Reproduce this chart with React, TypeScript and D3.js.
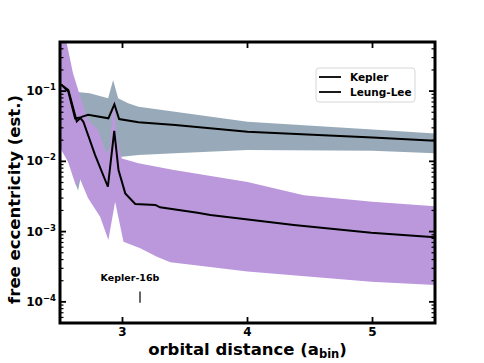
import React from 'react';
import * as d3 from 'd3';

// band edges and medians (x in a_bin, y = free eccentricity)
const grayHiX = [2.5, 2.618, 2.738, 2.885, 2.925, 2.965, 3.045, 3.128, 3.42, 4.0, 5.0, 5.5];
const grayHiY = [0.3, 0.098, 0.093, 0.079, 0.144, 0.079, 0.067, 0.06, 0.051, 0.0366, 0.0285, 0.025];
const grayLoX = [2.5, 2.6, 2.644, 2.68, 2.8, 2.887, 2.995, 3.128, 3.42, 4.0, 5.0, 5.5];
const grayLoY = [0.02, 0.007, 0.0038, 0.008, 0.0125, 0.0123, 0.0116, 0.0123, 0.013, 0.0145, 0.0142, 0.013];

const purpleHiX = [2.5, 2.535, 2.604, 2.658, 2.725, 2.805, 2.871, 2.9, 2.925, 2.957, 2.995, 3.128, 3.4, 4.0, 4.45, 5.0, 5.5];
const purpleHiY = [0.45, 0.7, 0.179, 0.0877, 0.0387, 0.0279, 0.013, 0.016, 0.0787, 0.02, 0.011, 0.0094, 0.0076, 0.0051, 0.0033, 0.00266, 0.0023];
const purpleLoX = [2.5, 2.51, 2.564, 2.604, 2.631, 2.658, 2.725, 2.821, 2.887, 2.941, 3.008, 3.142, 3.275, 3.382, 3.65, 4.0, 4.99, 5.5];
const purpleLoY = [0.016, 0.0145, 0.0099, 0.006, 0.00435, 0.0057, 0.00298, 0.00163, 0.00076, 0.00266, 0.00072, 0.00058, 0.00044, 0.000366, 0.00032, 0.00027, 0.000194, 0.000174];

const keplerX = [2.5, 2.514, 2.567, 2.634, 2.674, 2.725, 2.887, 2.935, 2.973, 3.128, 3.422, 4.0, 5.0, 5.5];
const keplerY = [0.12, 0.122, 0.103, 0.037, 0.043, 0.046, 0.041, 0.065, 0.04, 0.036, 0.033, 0.0264, 0.0219, 0.0196];

const leungX = [2.5, 2.514, 2.567, 2.621, 2.661, 2.687, 2.781, 2.883, 2.934, 2.968, 3.022, 3.102, 3.263, 3.3, 3.6, 3.703, 4.371, 4.99, 5.5];
const leungY = [0.12, 0.122, 0.098, 0.041, 0.042, 0.0366, 0.0123, 0.00435, 0.0272, 0.0075, 0.0035, 0.00247, 0.0024, 0.00222, 0.00185, 0.00172, 0.00124, 0.00096, 0.00083];

const xTicks = [3, 4, 5];
const yTicks = [1e-4, 1e-3, 1e-2, 1e-1];
const yTickExp = ['−4', '−3', '−2', '−1'];
const legendNames = ['Kepler', 'Leung-Lee'];

const planetX = 3.14;
const planetName = 'Kepler-16b';

const W = 484;
const H = 363;
const m = { left: 60, right: 49, top: 42, bottom: 40 };
const FONT = 'DejaVu Sans, sans-serif';

export default function App() {
  const x = d3.scaleLinear().domain([2.5, 5.5]).range([m.left, W - m.right]);
  const y = d3.scaleLog().domain([5e-5, 0.5]).range([H - m.bottom, m.top]);
  const [x0, x1] = x.range();
  const [y1, y0] = y.range();

  const pts = (xs: number[], ys: number[]) => xs.map((v, i) => [v, ys[i]] as [number, number]);
  const line = d3.line<[number, number]>().x(d => x(d[0])).y(d => y(d[1]));
  const band = (hx: number[], hy: number[], lx: number[], ly: number[]) =>
    line([...pts(hx, hy), ...pts(lx, ly).reverse()]) + 'Z';

  const minor = y.ticks().filter(t => !yTicks.some(v => Math.abs(v - t) / t < 1e-6));

  return (
    <svg width={W} height={H} style={{ position: 'absolute', left: 0, top: 0 }} fontFamily={FONT} fontWeight="bold">
      <defs>
        <clipPath id="plot">
          <rect x={x0} y={y0} width={x1 - x0} height={y1 - y0} />
        </clipPath>
      </defs>
      <rect width={W} height={H} fill="#fff" />
      <g clipPath="url(#plot)">
        <path d={band(grayHiX, grayHiY, grayLoX, grayLoY)} fill="#98aab9" />
        <path d={band(purpleHiX, purpleHiY, purpleLoX, purpleLoY)} fill="#bb98dc" />
        <path d={line(pts(keplerX, keplerY)) || ''} fill="none" stroke="#000" strokeWidth={2} />
        <path d={line(pts(leungX, leungY)) || ''} fill="none" stroke="#000" strokeWidth={2} />
      </g>

      {/* ticks, inward on all four sides */}
      <g stroke="#000">
        {xTicks.map(t => (
          <g key={'x' + t} strokeWidth={1.8}>
            <line x1={x(t)} x2={x(t)} y1={y1} y2={y1 - 6} />
            <line x1={x(t)} x2={x(t)} y1={y0} y2={y0 + 6} />
          </g>
        ))}
        {yTicks.map(t => (
          <g key={'y' + t} strokeWidth={1.8}>
            <line x1={x0} x2={x0 + 6} y1={y(t)} y2={y(t)} />
            <line x1={x1} x2={x1 - 6} y1={y(t)} y2={y(t)} />
          </g>
        ))}
        {minor.map(t => (
          <g key={'m' + t} strokeWidth={1.2}>
            <line x1={x0} x2={x0 + 3.5} y1={y(t)} y2={y(t)} />
            <line x1={x1} x2={x1 - 3.5} y1={y(t)} y2={y(t)} />
          </g>
        ))}
      </g>
      <rect x={x0} y={y0} width={x1 - x0} height={y1 - y0} fill="none" stroke="#000" strokeWidth={3} />

      {xTicks.map(t => (
        <text key={'xl' + t} x={x(t)} y={y1 + 13} textAnchor="middle" fontSize={12}>{t}</text>
      ))}
      {yTicks.map((t, i) => (
        <text key={'yl' + t} x={x0 - 4} y={y(t) + 4} textAnchor="end" fontSize={12}>
          10<tspan fontSize={8.5} dy={-5}>{yTickExp[i]}</tspan>
        </text>
      ))}

      <text x={(x0 + x1) / 2} y={H - 8} textAnchor="middle" fontSize={16.5}>
        orbital distance (a<tspan fontSize={11.5} dy={3}>bin</tspan><tspan dy={-3}>)</tspan>
      </text>
      <text transform={`translate(20,${(y0 + y1) / 2 + 17}) rotate(-90)`} textAnchor="middle" fontSize={16.5}>
        free eccentricity (est.)
      </text>

      {/* Kepler-16b marker */}
      <text x={x(planetX) - 10} y={y(2.0e-4)} textAnchor="middle" fontSize={9.5}>{planetName}</text>
      <line x1={x(planetX)} x2={x(planetX)} y1={y(1.4e-4)} y2={y(9.75e-5)} stroke="#000" strokeWidth={1.2} />

      {/* legend */}
      <g transform="translate(316,68)">
        <rect width={99} height={34} rx={3} fill="#fff" fillOpacity={0.8} stroke="#d6d6d6" />
        {legendNames.map((n, i) => (
          <g key={n} transform={`translate(0,${9 + i * 15})`}>
            <line x1={3} x2={25} y1={0} y2={0} stroke="#000" strokeWidth={1.8} />
            <text x={34} y={4} fontSize={10.5}>{n}</text>
          </g>
        ))}
      </g>
    </svg>
  );
}
